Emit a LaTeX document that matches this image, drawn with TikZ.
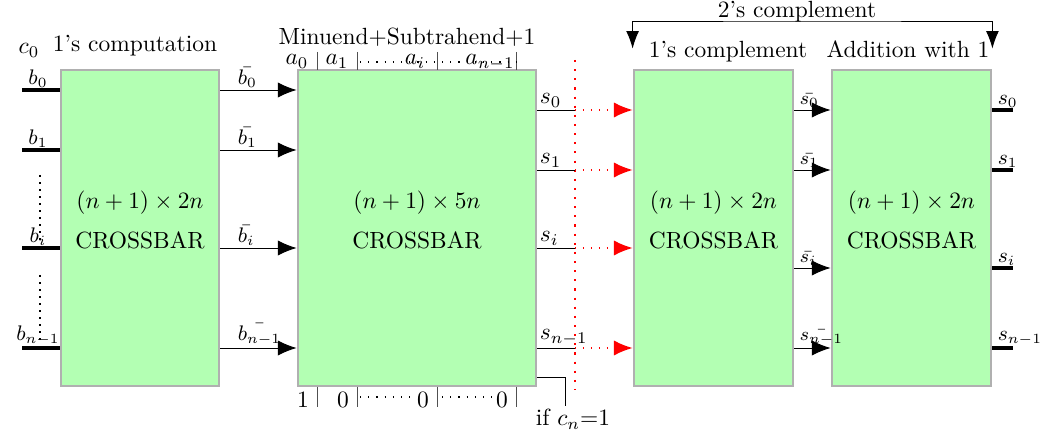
\documentclass[tikz,border=0pt]{standalone}
\usepackage{amsmath}
\usetikzlibrary{arrows.meta}
\definecolor{barFill}{HTML}{B3FFB3}
\definecolor{barBorder}{HTML}{B0B0B0}
\definecolor{wireRed}{HTML}{FF0000}
\definecolor{tickGray}{HTML}{505050}

\begin{document}
\begin{tikzpicture}[x=0.015cm, y=-0.015cm,
      xbar/.style={draw=barBorder, fill=barFill, line width=1.2pt, minimum height=4.74cm, inner sep=0pt},
      arr/.style={-{Latex[length=8pt,width=6.5pt]}},
      dblarr/.style={{Latex[length=7.5pt,width=5.5pt]}-{Latex[length=7.5pt,width=5.5pt]}},
      redarr/.style={wireRed, line width=0.6pt, dash pattern=on 0.6pt off 2.8pt, -{Latex[length=8pt,width=6.5pt]}},
      reddots/.style={wireRed, line width=0.9pt, dash pattern=on 0.9pt off 3pt},
      blackdots/.style={line width=0.9pt, dash pattern=on 0.9pt off 2.1pt},
      fielddots/.style={line width=0.5pt, dash pattern=on 0.5pt off 3pt},
      thickwire/.style={line width=1.3pt},
      lbl/.style={inner sep=1pt}]
      \useasboundingbox (0,0) rectangle (1049,439);

      % crossbar boxes
      \node[xbar, minimum width=2.37cm] (cb1) at (140,228) {};
      \node[xbar, minimum width=3.57cm] (cb2) at (417,228) {};
      \node[xbar, minimum width=2.385cm] (cb3) at (713.5,228) {};
      \node[xbar, minimum width=2.385cm] (cb4) at (911.5,228) {};
      \node[align=center] (cb1txt) at ([yshift=0.12cm]cb1.center) {$(n+1)\times 2n$\\[5pt]CROSSBAR};
      \node[align=center] (cb2txt) at ([yshift=0.12cm]cb2.center) {$(n+1)\times 5n$\\[5pt]CROSSBAR};
      \node[align=center] (cb3txt) at ([yshift=0.12cm]cb3.center) {$(n+1)\times 2n$\\[5pt]CROSSBAR};
      \node[align=center] (cb4txt) at ([yshift=0.12cm]cb4.center) {$(n+1)\times 2n$\\[5pt]CROSSBAR};

      % titles
      \node[anchor=base] (c0lbl) at (29,54) {$c_0$};
      \node[anchor=base] (onescomp) at (135,52) {1's computation};
      \node[anchor=base] (minsub) at (407,45) {Minuend+Subtrahend+1};
      \node[anchor=base] (onescmpl) at (728,58) {1's complement};
      \node[anchor=base] (addone) at (908,58) {Addition with 1};
      \node[anchor=base] (twoscmpl) at (797,18) {2's complement};
      \coordinate (twol) at ([yshift=0.3cm]cb3.north west);
      \coordinate (twor) at ([yshift=0.3cm]cb4.north east);
      \coordinate (topmid) at (812,21);
      \draw[dblarr] (twol) |- (topmid) -| (twor);

      % inputs and 1's computation outputs
      \foreach \y/\k/\lb in {90/0/{b_0},150/1/{b_1},248/i/{b_i},348/m/{b_{n-1}}} {
            \coordinate (bin\k) at (22,\y);
            \draw[thickwire] (bin\k) -- (bin\k -| cb1.west);
            \node[lbl, anchor=south, font=\small] (blbl\k) at (38,\y) {$\lb$};
            \draw[arr] (bin\k -| cb1.east) -- (bin\k -| cb2.west);
            \node[lbl, anchor=south west, font=\small] (bbar\k) at (235,\y) {$\bar{\lb}$};
      }
      \draw[blackdots] (40,175) -- (40,243);
      \draw[blackdots] (40,275) -- (40,345);

      % operand fields of the middle crossbar
      \foreach \x in {317,357,437,516} {
            \draw[tickGray] (\x,52) -- (\x,70);
            \draw[tickGray] (\x,387) -- (\x,407);
      }
      \draw[fielddots] (360,62) -- (516,62);
      \draw[fielddots] (360,397) -- (413,397);
      \draw[fielddots] (442,397) -- (492,397);
      \node[anchor=base] (a0) at (297,65) {$a_0$};
      \node[anchor=base] (a1) at (337,65) {$a_1$};
      \node[anchor=base] (ai) at (415,65) {$a_i$};
      \node[anchor=base] (an) at (490,65) {$a_{n-1}$};
      \node[anchor=base] (one) at (303,407) {1};
      \node[anchor=base] (zero1) at (343,407) {0};
      \node[anchor=base] (zeroi) at (423,407) {0};
      \node[anchor=base] (zeron) at (502,407) {0};

      % sum outputs
      \coordinate (redtop) at (575,60);
      \coordinate (redbot) at (575,390);
      \draw[reddots] (redtop) -- (redbot);
      \foreach \y/\k/\lb in {110/0/{s_0},170/1/{s_1},248/i/{s_i},348/m/{s_{n-1}}} {
            \coordinate (sout\k) at (575,\y);
            \draw (sout\k -| cb2.east) -- (sout\k);
            \draw[redarr] (sout\k) -- (sout\k -| cb3.west);
            \node[lbl, anchor=south west] (slbl\k) at (537,\y) {$\lb$};
      }
      \coordinate (ifc) at (565,406);
      \draw ([yshift=0.15cm]cb2.south east) -| (ifc);
      \node[anchor=base] (iflbl) at (573,426) {if $c_n$=1};

      % complement and addition
      \foreach \y/\k/\lb in {110/0/{s_0},170/1/{s_1},268/i/{s_i},348/m/{s_{n-1}}} {
            \coordinate (sbar\k) at (812,\y);
            \draw[arr] (sbar\k -| cb3.east) -- (sbar\k -| cb4.west);
            \node[lbl, anchor=south west, font=\footnotesize] (sbarlbl\k) at (797,\y) {$\bar{\lb}$};
            \draw[thickwire] (sbar\k -| cb4.east) -- ++(21,0) coordinate (sfin\k);
            \node[lbl, anchor=south west, font=\small] (sfinlbl\k) at (995,\y) {$\lb$};
      }
\end{tikzpicture}
\end{document}
